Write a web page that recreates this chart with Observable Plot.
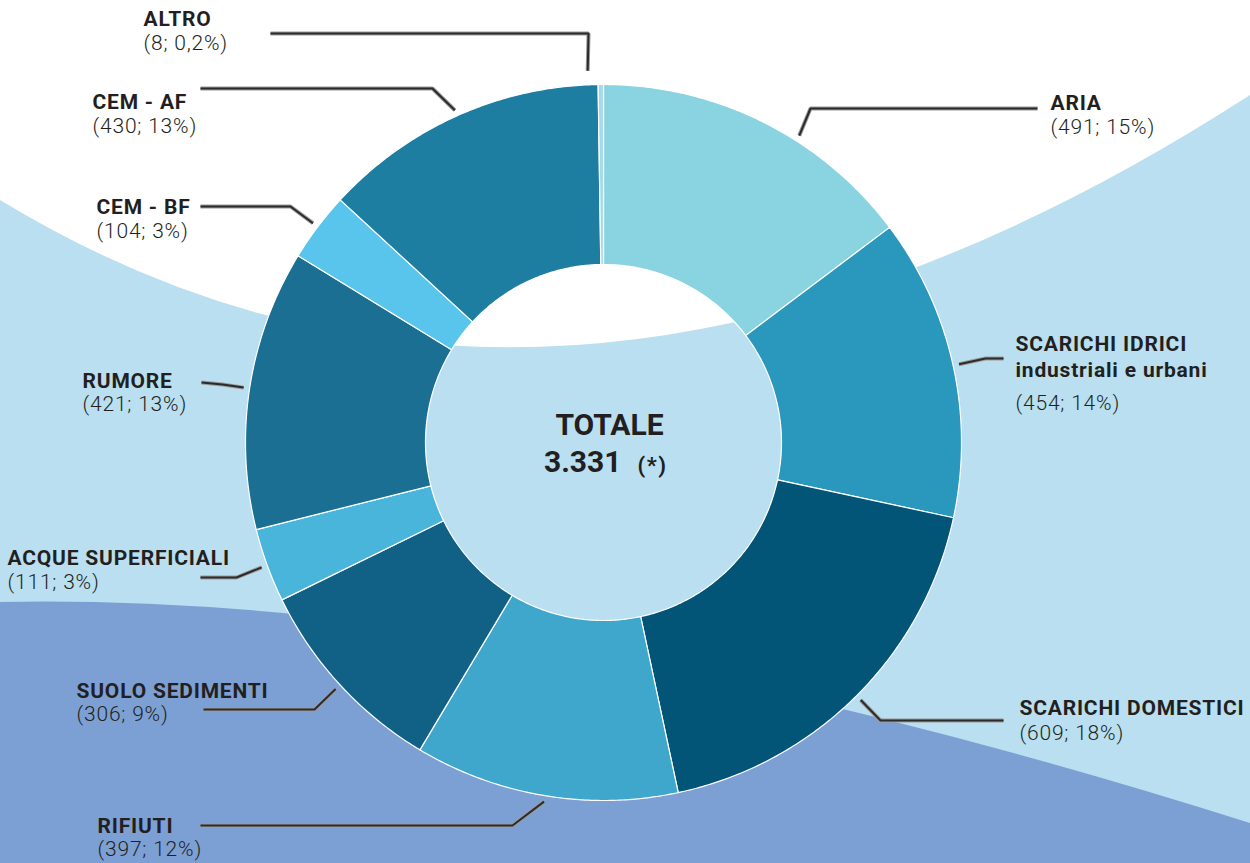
<!DOCTYPE html>
<html><head><meta charset="utf-8">
<script src="https://cdn.jsdelivr.net/npm/d3@7"></script>
<script src="https://cdn.jsdelivr.net/npm/@observablehq/plot@0.6"></script>
<style>
html,body{margin:0;padding:0;background:#fff;}
#wrap{position:relative;width:1250px;height:863px;overflow:hidden;}
#bg{position:absolute;left:0;top:0;}
#chart{position:absolute;left:0;top:0;}
</style></head><body>
<div id="wrap"><svg id="bg" width="1250" height="863"></svg><div id="chart"></div></div>
<script>
// ---- data ----
const categories = ["ARIA","SCARICHI IDRICI","SCARICHI DOMESTICI","RIFIUTI","SUOLO SEDIMENTI","ACQUE SUPERFICIALI","RUMORE","CEM - BF","CEM - AF","ALTRO"];
const categoryNotes = ["","industriali e urbani","","","","","","","",""];
const values = [491,454,609,397,306,111,421,104,430,8];
const sliceColors = ["#8AD3E1","#2A98BD","#035577","#3EA7CB","#106185","#4AB5DB","#1A6F92","#5AC5EC","#1E7EA2","#A3DAE8"];
const totalLabel = "TOTALE";
const totalNote = "(*)";

// ---- layout (positions only) ----
const W = 1250, H = 863, CX = 603, CY = 442, R_IN = 178, R_OUT = 358;
// label block left x, name-line centre y, value-line centre y, elbow, end of leader, angle shift (deg), start gap
const labelLayout = [
  {lx:1050, ny:101, vy:127, ex:810, ey:108, hx:1037, hy:108, shift:6, gap:6},
  {lx:1015, ny:342, vy:403, ex:985, ey:358, hx:1003, hy:358, shift:0, gap:6},
  {lx:1019, ny:706, vy:733, ex:880, ey:720, hx:1003, hy:720, shift:0, gap:6},
  {lx:97,   ny:824, vy:849, ex:512, ey:825, hx:200,  hy:825, shift:0, gap:6},
  {lx:76,   ny:689, vy:714, ex:314, ey:709, hx:203,  hy:709, shift:0, gap:6},
  {lx:7,    ny:556, vy:582, ex:236, ey:577, hx:200,  hy:577, shift:0, gap:6},
  {lx:82,   ny:379, vy:404, ex:222, ey:384, hx:201,  hy:382, shift:0, gap:6},
  {lx:96,   ny:205, vy:231, ex:290, ey:206, hx:200,  hy:206, shift:0, gap:6},
  {lx:92,   ny:100, vy:126, ex:432, ey:88,  hx:200,  hy:88,  shift:0, gap:6},
  {lx:143,  ny:17,  vy:43,  ex:588, ey:33,  hx:270,  hy:33,  shift:-2, gap:14}
];
const FONT = "Roboto, 'Open Sans', sans-serif";
const NAME_SIZE = 21, LINE_PX = 26;

// ---- background decoration ----
const bg = d3.select("#bg");
bg.append("rect").attr("width", W).attr("height", H).attr("fill", "#B9DFF0");
bg.append("path").attr("d", "M0,0 L0,200 Q560,540 1250,95 L1250,0 Z").attr("fill", "#FFFFFF");
bg.append("path").attr("d", "M0,602 Q520,592 1250,823 L1250,863 L0,863 Z").attr("fill", "#7DA0D4");

// ---- derived ----
const itLocale = d3.formatLocale({decimal: ",", thousands: ".", grouping: [3], currency: ["", "€"]});
const total = d3.sum(values);
const rows = categories.map((c, i) => ({name: c, note: categoryNotes[i], value: values[i], color: sliceColors[i], i}));
const arcs = d3.pie().sort(null).value(d => d.value)(rows);

const polar = (a, r) => [CX + r * Math.sin(a), CY - r * Math.cos(a)];

const polys = [];
arcs.forEach(p => {
  const n = Math.max(2, Math.ceil((p.endAngle - p.startAngle) * 180 / Math.PI * 2));
  for (let k = 0; k <= n; k++) {
    const a = p.startAngle + (p.endAngle - p.startAngle) * k / n;
    const [x, y] = polar(a, R_OUT);
    polys.push({name: p.data.name, color: p.data.color, x, y});
  }
  for (let k = n; k >= 0; k--) {
    const a = p.startAngle + (p.endAngle - p.startAngle) * k / n;
    const [x, y] = polar(a, R_IN);
    polys.push({name: p.data.name, color: p.data.color, x, y});
  }
});

const leaders = [];
const names = [];
const vals = [];
arcs.forEach((p, i) => {
  const L = labelLayout[i];
  const mid = (p.startAngle + p.endAngle) / 2 + L.shift * Math.PI / 180;
  const [sx, sy] = polar(mid, R_OUT + L.gap);
  leaders.push({name: p.data.name, x: sx, y: sy});
  leaders.push({name: p.data.name, x: L.ex, y: L.ey});
  leaders.push({name: p.data.name, x: L.hx, y: L.hy});
  const text = p.data.note ? p.data.name + "\n" + p.data.note : p.data.name;
  const nLines = text.split("\n").length;
  names.push({x: L.lx, y: L.ny + (nLines - 1) * LINE_PX / 2, text});
  const pct = p.data.value / total * 100;
  const pctStr = pct < 1 ? itLocale.format(".1f")(pct) : String(Math.round(pct));
  vals.push({x: L.lx, y: L.vy, text: `(${p.data.value}; ${pctStr}%)`});
});

const chart = Plot.plot({
  width: W, height: H, margin: 0,
  x: {domain: [0, W], range: [0, W], axis: null},
  y: {domain: [0, H], range: [0, H], axis: null},
  style: {background: "transparent", fontFamily: FONT, overflow: "visible"},
  marks: [
    Plot.line(polys, {x: "x", y: "y", z: "name", fill: "color", stroke: "#ffffff", strokeWidth: 1.2, curve: "linear-closed"}),
    Plot.line(leaders, {x: "x", y: "y", z: "name", stroke: "#9a9a9a", strokeWidth: 4, strokeLinejoin: "miter", strokeLinecap: "butt"}),
    Plot.line(leaders, {x: "x", y: "y", z: "name", stroke: "#2b2b2b", strokeWidth: 2, strokeLinejoin: "miter", strokeLinecap: "butt"}),
    Plot.text(names, {x: "x", y: "y", text: "text", textAnchor: "start", fontWeight: 700, fontSize: NAME_SIZE, lineHeight: LINE_PX / NAME_SIZE, fill: "#231F20", fontFamily: FONT}),
    Plot.text(vals, {x: "x", y: "y", text: "text", textAnchor: "start", fontWeight: 300, fontSize: NAME_SIZE, fill: "#231F20", fontFamily: FONT}),
    Plot.text([totalLabel], {x: () => CX + 6, y: () => CY - 17, text: d => d, fontWeight: 700, fontSize: 30, fill: "#231F20", fontFamily: FONT}),
    Plot.text([itLocale.format(",")(total)], {x: () => CX + 18, y: () => CY + 20, text: d => d, textAnchor: "end", fontWeight: 700, fontSize: 30, fill: "#231F20", fontFamily: FONT}),
    Plot.text([totalNote], {x: () => CX + 34, y: () => CY + 23, text: d => d, textAnchor: "start", fontWeight: 700, fontSize: 22, fill: "#231F20", fontFamily: FONT})
  ]
});
const textGroups = d3.select(chart).selectAll('g[aria-label="text"]').nodes();
const spacing = ["0.8px", "0.8px", null, null, "1.5px"];
textGroups.forEach((g, i) => d3.select(g).style("letter-spacing", spacing[i] || null));
document.getElementById("chart").appendChild(chart);
</script>
</body></html>
